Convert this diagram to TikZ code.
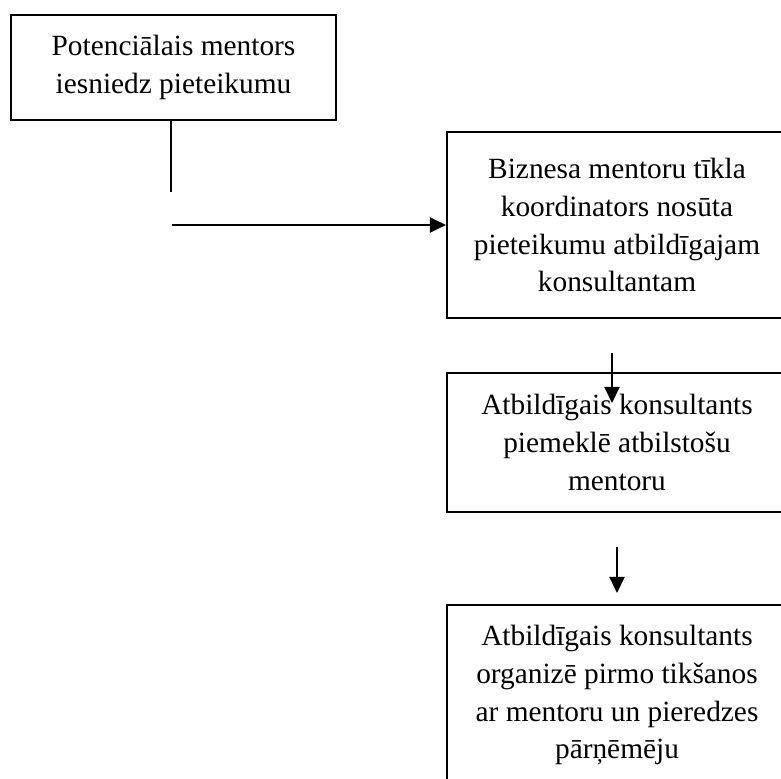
\documentclass[tikz,border=0pt]{standalone}
\usepackage{fontspec}
\setmainfont{Liberation Serif}
\usetikzlibrary{arrows.meta}

\begin{document}
\begin{tikzpicture}[>={Triangle[width=0.3cm,length=0.32cm]},
        solis/.style={draw,line width=1.2pt,align=center,font=\fontsize{16.7}{21.6}\selectfont}]
        \useasboundingbox (0,0) rectangle (15.62,15.56);
        \node [solis,minimum width=6.5cm,minimum height=2.1cm] (pieteikums) at (3.47,14.21) {Potenciālais mentors\\iesniedz pieteikumu};
        \node [solis,minimum width=6.8cm,minimum height=3.72cm] (koordinators) at (12.34,11.06) {Biznesa mentoru tīkla\\koordinators nosūta\\pieteikumu atbildīgajam\\konsultantam};
        \node [solis,minimum width=6.8cm,minimum height=2.78cm] (atlase) at (12.34,6.71) {Atbildīgais konsultants\\piemeklē atbilstošu\\mentoru};
        \node [solis,minimum width=6.8cm,minimum height=3.6cm] (tiksanas) at (12.34,1.66) {Atbildīgais konsultants\\organizē pirmo tikšanos\\ar mentoru un pieredzes\\pārņēmēju};
        \coordinate (lejup) at (3.42,11.72);
        \coordinate (pa labi) at (3.44,11.06);
        \coordinate (no1) at (12.24,8.5);
        \coordinate (uz1) at (12.24,7.5);
        \coordinate (no2) at (12.34,4.62);
        \coordinate (uz2) at (12.34,3.7);
        \draw [line width=1.2pt] (pieteikums.south -| lejup) -- (lejup);
        \draw [->,line width=1.2pt] (pa labi) -- (koordinators.west);
        \draw [->,line width=1.2pt] (no1) -- (uz1);
        \draw [->,line width=1.2pt] (no2) -- (uz2);
\end{tikzpicture}
\end{document}
